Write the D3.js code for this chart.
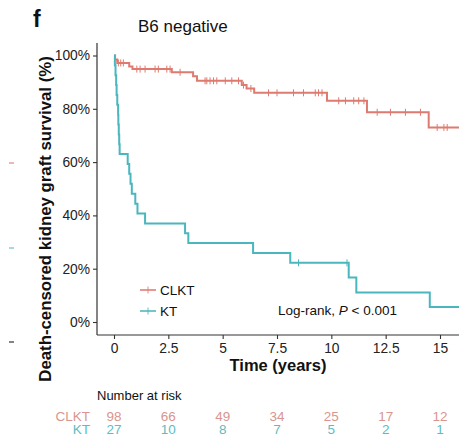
<!DOCTYPE html>
<html>
<head>
<meta charset="utf-8">
<script src="https://cdn.jsdelivr.net/npm/d3@7"></script>
<style>
  html, body { margin: 0; padding: 0; background: #fff; }
  svg { display: block; font-family: "Liberation Sans", Arial, Helvetica, sans-serif; }
</style>
</head>
<body>
<svg id="chart" width="459" height="437"></svg>
<script>
// Kaplan–Meier estimates (time in years, survival as a fraction)
const clktTimes = [0, 0.05, 0.15, 0.7, 0.85, 2.66, 3.64, 3.82, 5.88, 6.1, 6.45, 9.8, 11.64, 14.48];
const clktSurv  = [1.0, 0.985, 0.972, 0.959, 0.949, 0.937, 0.922, 0.905, 0.889, 0.876, 0.860, 0.830, 0.787, 0.730];
const clktCensor = [0.2, 0.31, 0.43, 1.05, 1.2, 1.43, 1.89, 2.04, 2.43, 2.58, 3.04,
  4.19, 4.27, 4.42, 4.58, 4.73, 5.12, 5.42, 5.73, 5.96, 6.3, 7.11, 7.5, 8.26, 8.72,
  9.26, 9.41, 9.57, 10.34, 10.65, 11.03, 11.26, 11.5, 12.11, 12.72, 13.41, 14.1,
  14.87, 15.18, 15.33];

const ktTimes = [0, 0.04, 0.07, 0.1, 0.12, 0.15, 0.19, 0.2, 0.22, 0.24, 0.26,
  0.63, 0.7, 0.76, 0.82, 0.98, 1.08, 1.43, 3.27, 3.42, 6.4, 8.11, 10.8, 11.15, 14.53];
const ktSurv = [1.0, 0.963, 0.926, 0.889, 0.852, 0.815, 0.778, 0.741, 0.704, 0.667, 0.630,
  0.593, 0.556, 0.519, 0.481, 0.444, 0.407, 0.370, 0.333, 0.296, 0.259, 0.222, 0.167, 0.111, 0.056];
const ktCensor = [8.49, 10.72];

const endTime = 16;

const xTicks = [0, 2.5, 5, 7.5, 10, 12.5, 15];
const xTickLabels = ["0", "2.5", "5", "7.5", "10", "12.5", "15"];
const yTicks = [0, 0.2, 0.4, 0.6, 0.8, 1.0];
const yTickLabels = ["0%", "20%", "40%", "60%", "80%", "100%"];

const groups = ["CLKT", "KT"];
const riskTimes = [0, 2.5, 5, 7.5, 10, 12.5, 15];
const clktRisk = [98, 66, 49, 34, 25, 17, 12];
const ktRisk = [27, 10, 8, 7, 5, 2, 1];

const colors = { CLKT: "#de7a6f", KT: "#4ab6be" };
const riskColors = { CLKT: "#d9958e", KT: "#5dbcc2" };

const svg = d3.select("#chart");
const x = d3.scaleLinear().domain([0, 15]).range([114, 440]);
const y = d3.scaleLinear().domain([0, 1]).range([322, 55.5]);
const axisLeft = 97, axisBottom = 335, axisTop = 43;

// panel letter and title
svg.append("text").attr("x", 33).attr("y", 27).attr("font-size", 23)
  .attr("font-weight", "bold").attr("fill", "#111").text("f");
svg.append("text").attr("x", 138).attr("y", 32).attr("font-size", 17)
  .attr("fill", "#111").text("B6 negative");

// small marks from the neighbouring panel at the left edge
[["#e08a80", 163], ["#6cc0c6", 248], ["#333", 342]].forEach(([c, yy]) => {
  svg.append("line").attr("x1", 9).attr("x2", 14).attr("y1", yy).attr("y2", yy)
    .attr("stroke", c).attr("stroke-width", 1.5).attr("opacity", 0.8);
});

// axes
const axisColor = "#333";
const gY = svg.append("g").attr("transform", `translate(${axisLeft},0)`)
  .call(d3.axisLeft(y).tickValues(yTicks).tickFormat((d, i) => yTickLabels[i]).tickSize(4).tickPadding(3));
gY.select(".domain").remove();
svg.append("line").attr("x1", axisLeft).attr("x2", axisLeft).attr("y1", axisTop).attr("y2", axisBottom)
  .attr("stroke", axisColor).attr("stroke-width", 1.2);

const gX = svg.append("g").attr("transform", `translate(0,${axisBottom})`)
  .call(d3.axisBottom(x).tickValues(xTicks).tickFormat((d, i) => xTickLabels[i]).tickSize(4).tickPadding(4));
gX.select(".domain").remove();
svg.append("line").attr("x1", axisLeft).attr("x2", 459).attr("y1", axisBottom).attr("y2", axisBottom)
  .attr("stroke", axisColor).attr("stroke-width", 1.2);

[gX, gY].forEach(g => {
  g.selectAll(".tick line").attr("stroke", axisColor).attr("stroke-width", 1.1);
  g.selectAll(".tick text").attr("fill", "#222").attr("font-size", 13.8)
    .attr("font-family", "'Liberation Sans', Arial, sans-serif");
});

// axis titles
svg.append("text").attr("x", 278).attr("y", 371).attr("text-anchor", "middle")
  .attr("font-size", 16.5).attr("font-weight", "bold").attr("fill", "#111").text("Time (years)");
svg.append("text").attr("transform", "translate(51,219) rotate(-90)").attr("text-anchor", "middle")
  .attr("font-size", 16.8).attr("font-weight", "bold").attr("fill", "#111")
  .text("Death-censored kidney graft survival (%)");

// survival curves
function stepValue(times, surv, t) {
  let v = surv[0];
  for (let i = 0; i < times.length; i++) if (times[i] <= t) v = surv[i];
  return v;
}
const line = d3.line().x(d => x(d[0])).y(d => y(d[1])).curve(d3.curveStepAfter);
const curves = [
  { name: "CLKT", times: clktTimes, surv: clktSurv, censor: clktCensor },
  { name: "KT", times: ktTimes, surv: ktSurv, censor: ktCensor }
];
curves.forEach(c => {
  const pts = c.times.map((t, i) => [t, c.surv[i]]);
  pts.push([endTime, c.surv[c.surv.length - 1]]);
  svg.append("path").datum(pts).attr("d", line).attr("fill", "none")
    .attr("stroke", colors[c.name]).attr("stroke-width", 2);
  svg.append("g").selectAll("line").data(c.censor).join("line")
    .attr("x1", d => x(d)).attr("x2", d => x(d))
    .attr("y1", d => y(stepValue(c.times, c.surv, d)) - 3.5)
    .attr("y2", d => y(stepValue(c.times, c.surv, d)) + 3.5)
    .attr("stroke", colors[c.name]).attr("stroke-width", 1);
});

// legend
const legendY = { CLKT: 290, KT: 311 };
groups.forEach(g => {
  const ly = legendY[g];
  svg.append("line").attr("x1", 140).attr("x2", 156).attr("y1", ly).attr("y2", ly)
    .attr("stroke", colors[g]).attr("stroke-width", 1.8).attr("opacity", 0.85);
  svg.append("line").attr("x1", 148).attr("x2", 148).attr("y1", ly - 3.5).attr("y2", ly + 3.5)
    .attr("stroke", colors[g]).attr("stroke-width", 1).attr("opacity", 0.85);
  svg.append("text").attr("x", 160).attr("y", ly + 5).attr("font-size", 13.5)
    .attr("fill", "#111").text(g);
});
const lr = svg.append("text").attr("x", 278).attr("y", 314.5).attr("font-size", 13.5).attr("fill", "#111");
lr.append("tspan").text("Log-rank, ");
lr.append("tspan").attr("font-style", "italic").text("P");
lr.append("tspan").text(" < 0.001");

// number at risk table (tightly stacked rows)
svg.append("text").attr("x", 97).attr("y", 400).attr("font-size", 13).attr("fill", "#111").text("Number at risk");
const riskRows = [
  { name: "CLKT", values: clktRisk, yb: 420.5 },
  { name: "KT", values: ktRisk, yb: 434 }
];
riskRows.forEach(r => {
  svg.append("text").attr("x", 90).attr("y", r.yb).attr("text-anchor", "end")
    .attr("font-size", 13.5).attr("fill", riskColors[r.name]).text(r.name);
  svg.append("g").selectAll("text").data(r.values).join("text")
    .attr("x", (d, i) => x(riskTimes[i])).attr("y", r.yb).attr("text-anchor", "middle")
    .attr("font-size", 13.5).attr("fill", riskColors[r.name]).text(d => d);
});
</script>
</body>
</html>
